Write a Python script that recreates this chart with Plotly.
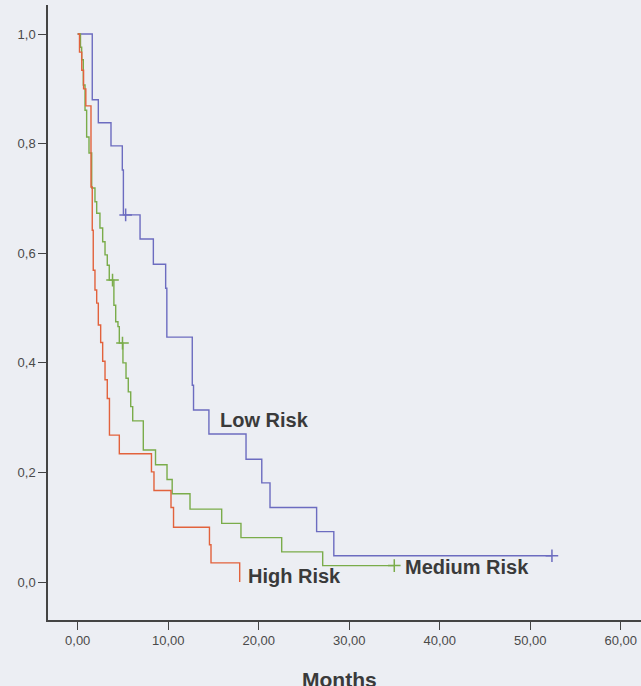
import plotly.graph_objects as go

# ---- data ----
low_t = [0, 1.61, 2.28, 3.68, 4.93, 5.05, 6.89, 8.36, 9.72, 9.85, 12.66, 12.80,
         14.50, 18.60, 20.34, 21.25, 26.40, 28.30, 52.40]
low_s = [1.0, 0.880, 0.838, 0.796, 0.752, 0.670, 0.626, 0.580, 0.536, 0.447, 0.359, 0.314,
         0.270, 0.224, 0.181, 0.136, 0.092, 0.048, 0.048]
low_cens_t = [5.30, 52.40]
low_cens_s = [0.670, 0.048]

med_t = [0, 0.31, 0.44, 0.62, 0.81, 0.99, 1.25, 1.55, 1.91, 2.10, 2.46, 2.76, 3.02,
         3.27, 3.49, 4.00, 4.20, 4.45, 4.60, 5.00, 5.34, 5.59, 5.86, 6.08, 7.25, 8.60,
         9.87, 10.44, 12.41, 15.91, 18.04, 22.54, 27.07, 34.98]
med_s = [1.0, 0.976, 0.953, 0.907, 0.861, 0.812, 0.783, 0.719, 0.694, 0.673, 0.646, 0.621,
         0.597, 0.578, 0.551, 0.505, 0.475, 0.466, 0.436, 0.400, 0.372, 0.347, 0.320, 0.294,
         0.241, 0.214, 0.187, 0.161, 0.133, 0.107, 0.081, 0.055, 0.030, 0.030]
med_cens_t = [3.85, 4.95, 34.98]
med_cens_s = [0.551, 0.436, 0.030]

high_t = [0, 0.20, 0.45, 0.65, 0.90, 1.47, 1.61, 1.72, 1.91, 2.10, 2.28, 2.54, 2.76,
          3.02, 3.27, 3.51, 4.60, 8.15, 8.43, 10.31, 10.59, 14.56, 14.73, 17.90]
high_s = [1.0, 0.967, 0.934, 0.900, 0.869, 0.721, 0.642, 0.569, 0.533, 0.509, 0.469, 0.437,
          0.403, 0.369, 0.335, 0.268, 0.234, 0.201, 0.167, 0.136, 0.100, 0.068, 0.035, 0.0]

x_ticks = [0, 10, 20, 30, 40, 50, 60]
x_tick_labels = ["0,00", "10,00", "20,00", "30,00", "40,00", "50,00", "60,00"]
y_ticks = [0.0, 0.2, 0.4, 0.6, 0.8, 1.0]
y_tick_labels = ["0,0", "0,2", "0,4", "0,6", "0,8", "1,0"]

group_names = ["Low Risk", "Medium Risk", "High Risk"]

# ---- styles ----
BLUE = "#6c6cc0"
GREEN = "#7aac4a"
RED = "#e2623c"
BG = "#eceef3"
TXT = "#3a3a3a"

fig = go.Figure()

for t, s, col in [(low_t, low_s, BLUE), (med_t, med_s, GREEN), (high_t, high_s, RED)]:
    fig.add_trace(go.Scatter(x=t, y=s, mode="lines", line=dict(color=col, width=1.4, shape="hv"),
                             hoverinfo="skip", showlegend=False))

for t, s, col in [(low_cens_t, low_cens_s, BLUE), (med_cens_t, med_cens_s, GREEN)]:
    fig.add_trace(go.Scatter(x=t, y=s, mode="markers",
                             marker=dict(symbol="cross-thin", size=9, line=dict(color=col, width=1.5)),
                             hoverinfo="skip", showlegend=False))

label_font = dict(family="Liberation Sans, Arial, sans-serif", size=20, color=TXT)
fig.add_annotation(x=15.5, y=0.296, text="<b>" + group_names[0] + "</b>", showarrow=False,
                   xanchor="left", yanchor="middle", font=label_font)
fig.add_annotation(x=35.9, y=0.027, text="<b>" + group_names[1] + "</b>", showarrow=False,
                   xanchor="left", yanchor="middle", font=label_font)
fig.add_annotation(x=18.6, y=0.011, text="<b>" + group_names[2] + "</b>", showarrow=False,
                   xanchor="left", yanchor="middle", font=label_font)

fig.add_annotation(x=0.491, y=-0.097, xref="paper", yref="paper", text="<b>Months</b>",
                   showarrow=False, xanchor="center", yanchor="middle",
                   font=dict(family="Liberation Sans, Arial, sans-serif", size=21, color=TXT))

axis_common = dict(showgrid=False, zeroline=False, showline=True, linecolor="#444444",
                   linewidth=1.5, ticks="outside", ticklen=8, tickcolor="#444444", tickwidth=1.2,
                   tickfont=dict(family="Liberation Sans, Arial, sans-serif", size=13, color="#4a4a4a"))

fig.update_xaxes(range=[-3.28, 62.24], tickvals=x_ticks, ticktext=x_tick_labels, **axis_common)
fig.update_yaxes(range=[-0.0693, 1.053], tickvals=y_ticks, ticktext=y_tick_labels, **axis_common)

fig.update_layout(width=641, height=686, margin=dict(l=48, r=0, t=5, b=66),
                  paper_bgcolor=BG, plot_bgcolor=BG, showlegend=False)

fig.write_html("out.html", config={"displayModeBar": False},
               post_script="document.body.style.margin='0';document.body.style.background='%s';" % BG)
